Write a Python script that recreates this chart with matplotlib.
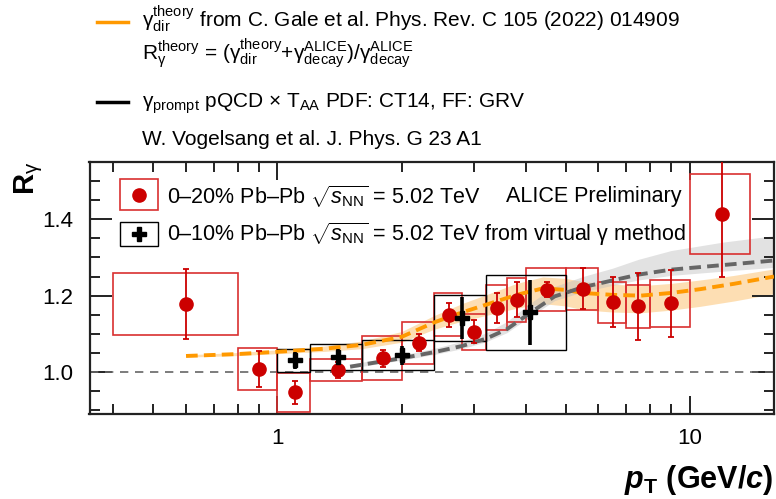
import numpy as np
import matplotlib
matplotlib.use("Agg")
import matplotlib.pyplot as plt
from matplotlib.patches import Rectangle
from matplotlib.lines import Line2D
from matplotlib.ticker import FixedLocator, NullFormatter

plt.rcParams["font.family"] = ["Liberation Sans", "DejaVu Sans"]
plt.rcParams["mathtext.fontset"] = "custom"
plt.rcParams["mathtext.rm"] = "Liberation Sans"
plt.rcParams["mathtext.it"] = "Liberation Sans:italic"
plt.rcParams["mathtext.bf"] = "Liberation Sans:bold"
plt.rcParams["mathtext.bfit"] = "Liberation Sans:italic:bold"

# ===================== DATA =====================

# 0-20% Pb-Pb (red points)
red_lo = [0.4, 0.8, 1.0, 1.2, 1.6, 2.0, 2.4, 2.8, 3.2, 3.6, 4.0, 5.0, 6.0, 7.0, 8.0, 10.0]
red_hi = [0.8, 1.0, 1.2, 1.6, 2.0, 2.4, 2.8, 3.2, 3.6, 4.0, 5.0, 6.0, 7.0, 8.0, 10.0, 14.0]
red_pt = [0.6, 0.9, 1.1, 1.4, 1.8, 2.2, 2.6, 3.0, 3.4, 3.8, 4.5, 5.5, 6.5, 7.5, 9.0, 12.0]
red_r = [1.178, 1.007, 0.947, 1.005, 1.036, 1.077, 1.150, 1.105, 1.168, 1.189, 1.216, 1.218,
         1.183, 1.172, 1.180, 1.414]
red_stat = [0.091, 0.047, 0.030, 0.020, 0.022, 0.022, 0.031, 0.030, 0.040, 0.046, 0.020, 0.054,
            0.066, 0.088, 0.088, 0.165]
red_sys = [0.081, 0.055, 0.051, 0.028, 0.057, 0.055, 0.057, 0.048, 0.059, 0.057, 0.057, 0.055,
           0.054, 0.056, 0.061, 0.104]

# 0-10% Pb-Pb virtual photon (black crosses)
blk_lo = [1.0, 1.2, 1.6, 2.4, 3.2]
blk_hi = [1.2, 1.6, 2.4, 3.2, 5.0]
blk_pt = [1.1, 1.4, 2.0, 2.8, 4.1]
blk_r = [1.031, 1.039, 1.044, 1.141, 1.156]
blk_stat = [0.022, 0.020, 0.025, 0.055, 0.085]
blk_sys = [0.030, 0.035, 0.040, 0.061, 0.098]

# C. Gale et al. (orange)
gale_pt = [0.6, 0.8, 1.0, 1.3, 1.6, 2.0, 2.4, 2.8, 3.2, 3.8, 4.4, 5.0, 5.5, 6.5, 7.6, 9.0,
           10.6, 12.8, 16.0]
gale_r = [1.042, 1.047, 1.053, 1.061, 1.071, 1.092, 1.130, 1.156, 1.176, 1.202, 1.219, 1.215,
          1.207, 1.202, 1.200, 1.207, 1.217, 1.231, 1.250]
gale_hi = [1.045, 1.051, 1.058, 1.068, 1.081, 1.106, 1.148, 1.179, 1.202, 1.232, 1.249, 1.245,
           1.237, 1.230, 1.226, 1.232, 1.241, 1.253, 1.270]
gale_lo = [1.039, 1.043, 1.048, 1.054, 1.061, 1.078, 1.112, 1.133, 1.148, 1.167, 1.179, 1.173,
           1.163, 1.157, 1.155, 1.162, 1.172, 1.186, 1.205]

# pQCD prompt photons (gray)
pqcd_pt = [1.5, 2.0, 2.4, 2.8, 3.2, 3.6, 4.1, 4.7, 5.5, 6.5, 7.5, 9.0, 12.0, 16.0]
pqcd_r = [1.014, 1.036, 1.052, 1.068, 1.087, 1.112, 1.155, 1.198, 1.222, 1.240, 1.255, 1.268,
          1.280, 1.292]
pqcd_hi = [1.020, 1.044, 1.062, 1.080, 1.102, 1.132, 1.180, 1.224, 1.250, 1.272, 1.295, 1.318,
           1.340, 1.357]
pqcd_lo = [1.010, 1.031, 1.046, 1.061, 1.079, 1.103, 1.145, 1.187, 1.210, 1.227, 1.241, 1.253,
           1.264, 1.274]

x_ticks = [1, 10]
y_ticks = [1.0, 1.2, 1.4]

# ===================== FIGURE =====================

W, H = 776, 499
fig = plt.figure(figsize=(W / 100, H / 100), dpi=100)
ax = fig.add_axes([89.5 / W, 1 - 414 / H, (774 - 89.5) / W, (414 - 162) / H])

ax.set_xscale("log")
ax.set_xlim(0.35, 16)
ax.set_ylim(0.89, 1.55)

# theory bands
ax.fill_between(gale_pt, gale_lo, gale_hi, color="#fdd9a6", alpha=0.85, lw=0, zorder=1)
ax.fill_between(pqcd_pt, pqcd_lo, pqcd_hi, color="#bfbfbf", alpha=0.45, lw=0, zorder=1)

# unity line
ax.axhline(1.0, color="#666666", lw=1.2, dashes=(5, 4), zorder=2)

# systematic boxes
for lo, hi, r, s in zip(red_lo, red_hi, red_r, red_sys):
    ax.add_patch(Rectangle((lo, r - s), hi - lo, 2 * s, fill=False,
                           edgecolor="#d93030", lw=1.2, zorder=3))
for lo, hi, r, s in zip(blk_lo, blk_hi, blk_r, blk_sys):
    ax.add_patch(Rectangle((lo, r - s), hi - lo, 2 * s, fill=False,
                           edgecolor="black", lw=1.0, zorder=3))

# theory curves
ax.plot(gale_pt, gale_r, color="#ff9900", lw=2.8, dashes=(3, 1.6), zorder=4)
ax.plot(pqcd_pt, pqcd_r, color="#666666", lw=2.8, dashes=(3, 1.6), zorder=4)

# data points
ax.errorbar(red_pt, red_r, yerr=red_stat, fmt="o", color="#cc0000", ms=9.5,
            elinewidth=1.3, capsize=2, capthick=1.3, zorder=6)
ax.errorbar(blk_pt, blk_r, yerr=blk_stat, fmt="P", color="black", ms=10,
            elinewidth=2.6, capsize=0, zorder=7)

# ticks
ax.xaxis.set_major_locator(FixedLocator(x_ticks))
ax.xaxis.set_minor_locator(FixedLocator([0.4, 0.5, 0.6, 0.7, 0.8, 0.9, 2, 3, 4, 5, 6, 7, 8, 9]))
ax.xaxis.set_minor_formatter(NullFormatter())
ax.set_xticklabels([str(t) for t in x_ticks])
ax.yaxis.set_major_locator(FixedLocator(y_ticks))
ax.yaxis.set_minor_locator(FixedLocator(np.arange(0.9, 1.551, 0.05)))
ax.set_yticklabels([f"{t:.1f}" for t in y_ticks])
ax.tick_params(which="both", direction="in", top=True, right=True, width=1.4, color="#222222")
ax.tick_params(which="major", axis="x", length=13, labelsize=16, pad=10)
ax.tick_params(which="minor", axis="x", length=7.5)
ax.tick_params(which="major", axis="y", length=16, labelsize=16, pad=12)
ax.tick_params(which="minor", axis="y", length=7.5)
for sp in ax.spines.values():
    sp.set_linewidth(1.6)
    sp.set_color("#222222")

# axis titles
fig.text(29 / W, 1 - 178 / H, r"$\mathbf{R}_{\mathrm{\gamma}}$", rotation=90, ha="center",
         va="center", fontsize=21, fontweight="bold")
fig.text(773 / W, 1 - 488 / H, r"$\mathbfit{p}_{\mathbf{T}}$ (GeV/$\mathbfit{c}$)",
         ha="right", va="baseline", fontsize=22, fontweight="bold")


def fx(px):
    return px / W


def fy(py):
    return 1 - py / H


# in-frame legend
fig.add_artist(Rectangle((fx(120), fy(210)), 38 / W, 31 / H, transform=fig.transFigure,
                         fill=False, edgecolor="#d93030", lw=1.2))
fig.add_artist(Line2D([fx(139)], [fy(194.5)], marker="o", color="#cc0000", ms=9.5,
                      transform=fig.transFigure))
fig.add_artist(Rectangle((fx(120), fy(246)), 38 / W, 24 / H, transform=fig.transFigure,
                         fill=False, edgecolor="black", lw=1.0))
fig.add_artist(Line2D([fx(139)], [fy(234)], marker="P", color="black", ms=10,
                      transform=fig.transFigure))
fig.text(fx(167), fy(196.5), r"0–20% Pb–Pb $\sqrt{s_{\mathrm{NN}}}$ = 5.02 TeV",
         ha="left", va="center", fontsize=15.5)
fig.text(fx(167), fy(234),
         r"0–10% Pb–Pb $\sqrt{s_{\mathrm{NN}}}$ = 5.02 TeV from virtual $\mathrm{\gamma}$ method",
         ha="left", va="center", fontsize=15.5)
fig.text(fx(506), fy(196.5), "ALICE Preliminary", ha="left", va="center", fontsize=15.5)

# top legend (outside frame)
fig.add_artist(Line2D([fx(97), fx(128)], [fy(21.7), fy(21.7)], color="#ff9900", lw=2.5,
                      transform=fig.transFigure))
fig.add_artist(Line2D([fx(97), fx(128)], [fy(101.7), fy(101.7)], color="black", lw=2.5,
                      transform=fig.transFigure))
g = r"\mathrm{\gamma}"
fig.text(fx(142), fy(26.7),
         rf"${g}_{{\mathrm{{dir}}}}^{{\mathrm{{theory}}}}$ from C. Gale et al. Phys. Rev. C 105 (2022) 014909",
         ha="left", va="baseline", fontsize=15)
fig.text(fx(142), fy(60),
         rf"$\mathrm{{R}}_{{{g}}}^{{\mathrm{{theory}}}}$ = (${g}_{{\mathrm{{dir}}}}^{{\mathrm{{theory}}}}$"
         rf"+${g}_{{\mathrm{{decay}}}}^{{\mathrm{{ALICE}}}}$)/${g}_{{\mathrm{{decay}}}}^{{\mathrm{{ALICE}}}}$",
         ha="left", va="baseline", fontsize=15)
fig.text(fx(142), fy(108),
         rf"${g}_{{\mathrm{{prompt}}}}$ pQCD × $\mathrm{{T}}_{{\mathrm{{AA}}}}$ PDF: CT14, FF: GRV",
         ha="left", va="baseline", fontsize=15)
fig.text(fx(142), fy(145), "W. Vogelsang et al. J. Phys. G 23 A1",
         ha="left", va="baseline", fontsize=15)

fig.savefig("out.png", dpi=100)
